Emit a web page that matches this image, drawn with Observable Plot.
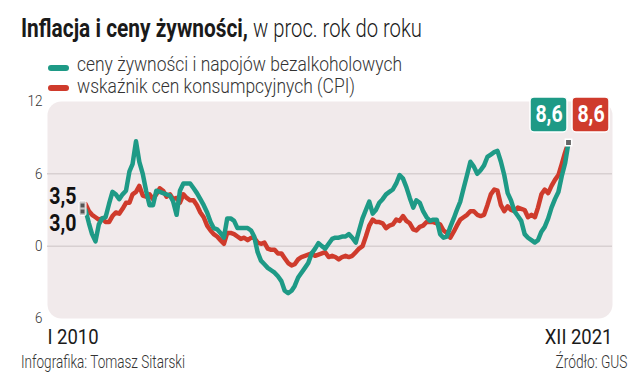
<!DOCTYPE html>
<html><head><meta charset="utf-8">
<script src="https://cdn.jsdelivr.net/npm/d3@7"></script>
<script src="https://cdn.jsdelivr.net/npm/@observablehq/plot@0.6"></script>
<style>
html,body{margin:0;padding:0;background:#fff;}
body{width:636px;height:389px;position:relative;overflow:hidden;font-family:Roboto,sans-serif;}
.t{position:absolute;white-space:nowrap;line-height:1;font-family:Roboto,sans-serif;}
.sw{position:absolute;border-radius:3px;}
#chart{position:absolute;left:0;top:90px;}
</style></head><body>
<div id="chart"></div>
<script>
// ---- texts ----
const titleBold = "Inflacja i ceny żywności,";
const titleLight = "w proc. rok do roku";
const foodLabel = "ceny żywności i napojów bezalkoholowych";
const cpiLabel = "wskaźnik cen konsumpcyjnych (CPI)";
const credit = "Infografika: Tomasz Sitarski";
const source = "Źródło: GUS";
const firstLabel = "I 2010";
const lastLabel = "XII 2021";

// ---- data: monthly y/y change, Jan 2010 .. Dec 2021 ----
const food = [
  3.0, 1.9, 1.0, 0.4, 1.8, 2.3, 2.4, 3.5, 4.5, 4.3, 3.9, 4.3,
  4.6, 6.2, 6.8, 8.7, 7.0, 6.0, 4.6, 3.4, 3.4, 4.6, 4.5, 4.4,
  4.3, 4.2, 3.7, 2.6, 4.6, 5.2, 5.2, 5.2, 4.8, 4.4, 3.9, 3.4,
  2.8, 2.0, 1.5, 1.4, 1.1, 0.7, 2.3, 2.3, 2.1, 1.5, 1.5, 1.5,
  1.5, 1.3, 0.8, -0.5, -1.2, -1.5, -1.8, -2.0, -2.2, -2.5, -2.9, -3.7,
  -3.9, -3.7, -3.3, -2.6, -2.2, -1.8, -1.4, -0.6, -0.2, 0.25, 0.0, -0.2,
  0.2, 0.6, 0.7, 0.7, 0.8, 0.8, 1.0, 0.7, 0.3, 1.3, 2.3, 3.0,
  3.7, 2.7, 3.0, 3.6, 3.9, 4.3, 4.5, 4.7, 5.2, 5.9, 5.6, 4.9,
  4.0, 3.2, 3.8, 3.6, 2.9, 2.4, 2.1, 2.2, 2.2, 1.0, 0.7, 0.8,
  1.6, 2.3, 3.0, 3.7, 4.8, 5.9, 7.0, 6.6, 6.0, 6.3, 6.7, 7.4,
  7.6, 7.8, 7.9, 7.0, 5.9, 4.4, 3.8, 2.9, 2.5, 2.1, 1.0, 0.7,
  0.5, 0.3, 0.5, 1.2, 1.6, 2.3, 3.2, 3.9, 4.5, 5.8, 6.9, 8.6
];
const cpi = [
  3.5, 2.9, 2.6, 2.4, 2.2, 2.3, 2.0, 2.0, 2.5, 2.8, 2.7, 3.1,
  3.6, 3.6, 4.3, 4.5, 5.0, 4.2, 4.1, 4.3, 3.9, 4.3, 4.8, 4.6,
  4.1, 4.3, 3.9, 4.0, 3.6, 4.3, 4.0, 3.8, 3.8, 3.4, 2.8, 2.4,
  1.7, 1.3, 1.0, 0.8, 0.5, 0.2, 1.1, 1.1, 1.0, 0.8, 0.6, 0.7,
  0.5, 0.7, 0.7, 0.3, 0.2, 0.3, -0.2, -0.3, -0.3, -0.6, -0.6, -1.0,
  -1.4, -1.6, -1.5, -1.1, -0.9, -0.8, -0.7, -0.6, -0.8, -0.7, -0.6, -0.5,
  -0.9, -0.8, -0.9, -1.1, -0.9, -0.8, -0.9, -0.8, -0.5, -0.2, 0.0, 0.8,
  1.7, 2.2, 2.0, 2.0, 1.9, 1.5, 1.7, 1.8, 2.2, 2.1, 2.5, 2.1,
  1.9, 1.4, 1.3, 1.6, 1.7, 2.0, 2.0, 2.0, 1.9, 1.8, 1.3, 1.1,
  0.7, 1.2, 1.7, 2.2, 2.4, 2.6, 2.9, 2.9, 2.6, 2.5, 2.6, 3.4,
  4.3, 4.7, 4.6, 3.4, 2.9, 3.3, 3.0, 2.9, 3.2, 3.1, 3.0, 2.4,
  2.6, 2.4, 3.2, 4.3, 4.7, 4.4, 5.0, 5.5, 5.9, 6.8, 7.8, 8.6
];
const yTicks = [-6, 0, 6, 12];
const gridValues = [0, 6];

// ---- styles ----
const TEAL = "#1e9a86";
const RED = "#cf3b2c";
const BG = "#f1eaeb";

// ---- build tables ----
const months = food.map((_, i) => new Date(Date.UTC(2010, i, 1)));
const foodRows = food.map((v, i) => ({date: months[i], value: v}));
const cpiRows = cpi.map((v, i) => ({date: months[i], value: v}));
const fmt = v => v.toFixed(1).replace(".", ",");
const n = months.length - 1;
const startPts = [
  {date: months[0], value: cpi[0], label: fmt(cpi[0])},
  {date: months[0], value: food[0], label: fmt(food[0])}
];
const startBox = [{date: months[0], lo: Math.min(cpi[0], food[0]), hi: Math.max(cpi[0], food[0])}];
const endFood = [{date: months[n], value: food[n], label: fmt(food[n])}];
const endCpi = [{date: months[n], value: cpi[n], label: fmt(cpi[n])}];

const chart = Plot.plot({
  width: 636, height: 299,
  marginTop: 11, marginBottom: 71, marginLeft: 47, marginRight: 24,
  x: {type: "utc", domain: [months[0], months[n]], range: [85, 568], axis: null},
  y: {domain: [-6, 12], label: null},
  style: {fontFamily: "Roboto, sans-serif", background: "transparent", overflow: "visible"},
  marks: [
    Plot.frame({fill: BG, stroke: null, rx: 14}),
    Plot.ruleY(gridValues, {stroke: "#d8d0d1", strokeWidth: 1.5}),
    Plot.axisY(yTicks, {tickSize: 0, tickPadding: 5, tickFormat: d => String(Math.abs(d)),
      fontSize: 15, fontWeight: 300, color: "#333", label: null}),
    Plot.line(cpiRows, {x: "date", y: "value", stroke: RED, strokeWidth: 4.5, strokeLinejoin: "round"}),
    Plot.line(foodRows, {x: "date", y: "value", stroke: TEAL, strokeWidth: 4.5, strokeLinejoin: "round"}),
    // start marker
    Plot.rect(startBox, {x1: "date", x2: "date", y1: "lo", y2: "hi",
      insetLeft: -6, insetRight: -1, insetTop: -2.5, insetBottom: -6,
      fill: "#c9c6c6", stroke: "#fff", strokeWidth: 1, rx: 1.5}),
    Plot.dot(startPts, {x: "date", y: "value", symbol: "square", r: 2.2, fill: "#555", dx: -3, dy: 1.5}),
    Plot.text(startPts.slice(0, 1), {x: "date", y: "value", text: "label", textAnchor: "end",
      lineAnchor: "middle", dx: -9, dy: -7, fontSize: 23, fontWeight: 700, fill: "#111"}),
    Plot.text(startPts.slice(1), {x: "date", y: "value", text: "label", textAnchor: "end",
      lineAnchor: "middle", dx: -9, dy: 14, fontSize: 23, fontWeight: 700, fill: "#111"}),
    // end marker
    Plot.dot(endFood, {x: "date", y: "value", symbol: "square", r: 3.6, fill: "#666", stroke: "#fff", strokeWidth: 1.5}),
    // badges
    Plot.rect(endFood, {x1: "date", x2: "date", y1: "value", y2: "value",
      insetLeft: -38, insetRight: 1, insetTop: -45, insetBottom: 10,
      fill: TEAL, stroke: "#fff", strokeWidth: 1.5, rx: 4}),
    Plot.rect(endCpi, {x1: "date", x2: "date", y1: "value", y2: "value",
      insetLeft: 4, insetRight: -41, insetTop: -45, insetBottom: 10,
      fill: RED, stroke: "#fff", strokeWidth: 1.5, rx: 4}),
    Plot.text(endFood, {x: "date", y: "value", text: "label", lineAnchor: "middle",
      dx: -19.5, dy: -27.5, fontSize: 23, fontWeight: 700, fill: "#fff"}),
    Plot.text(endCpi, {x: "date", y: "value", text: "label", lineAnchor: "middle",
      dx: 22.5, dy: -27.5, fontSize: 23, fontWeight: 700, fill: "#fff"}),
    // period labels
    Plot.text([firstLabel], {text: d => d, frameAnchor: "bottom-left", textAnchor: "start",
      lineAnchor: "bottom", dy: 25, fontSize: 21, fontWeight: 400, fill: "#1a1a1a"}),
    Plot.text([lastLabel], {text: d => d, frameAnchor: "bottom-right", textAnchor: "end",
      lineAnchor: "bottom", dy: 25, fontSize: 21, fontWeight: 400, fill: "#1a1a1a"})
  ]
});
document.getElementById("chart").appendChild(chart);

// condensed look for svg texts
const factor = s => /^\d+$/.test(s) ? 0.9 : /^\d,\d$/.test(s) ? 0.85 : (s === firstLabel || s === lastLabel) ? 0.88 : null;
chart.querySelectorAll("text").forEach(t => {
  const k = factor(t.textContent.trim());
  if (!k) return;
  const tr = t.getAttribute("transform");
  if (tr) t.setAttribute("transform", tr + ` scale(${k},1)`);
  else {
    const x = parseFloat(t.getAttribute("x") || 0);
    t.setAttribute("x", 0);
    t.setAttribute("transform", `translate(${x},0) scale(${k},1)`);
  }
});

// ---- html header / footer ----
function place(txt, o) {
  const s = document.createElement("div");
  s.className = "t";
  s.textContent = txt;
  s.style.fontSize = o.size + "px";
  s.style.fontWeight = o.weight;
  s.style.color = o.color || "#222";
  document.body.appendChild(s);
  const w = s.getBoundingClientRect().width;
  const k = o.width / w;
  s.style.top = (o.baseline - 0.842 * o.size) + "px";
  if (o.anchor === "end") { s.style.left = (o.x - w) + "px"; s.style.transformOrigin = "right center"; }
  else { s.style.left = o.x + "px"; s.style.transformOrigin = "left center"; }
  s.style.transform = `scaleX(${k})`;
}
function swatch(color, top) {
  const d = document.createElement("div");
  d.className = "sw";
  d.style.cssText += `left:48px;top:${top}px;width:21px;height:6px;background:${color};`;
  document.body.appendChild(d);
}
place(titleBold, {x: 21, baseline: 37, size: 26, weight: 700, width: 227, color: "#1a1a1a"});
place(titleLight, {x: 253, baseline: 37, size: 26, weight: 300, width: 169, color: "#1a1a1a"});
swatch(TEAL, 65);
swatch(RED, 85);
place(foodLabel, {x: 77, baseline: 71, size: 20, weight: 300, width: 325, color: "#333"});
place(cpiLabel, {x: 77, baseline: 93, size: 20, weight: 300, width: 278, color: "#333"});
place(credit, {x: 21, baseline: 368, size: 18, weight: 300, width: 164, color: "#333"});
place(source, {x: 627, anchor: "end", baseline: 368, size: 18, weight: 300, width: 72, color: "#333"});
</script>
</body></html>
